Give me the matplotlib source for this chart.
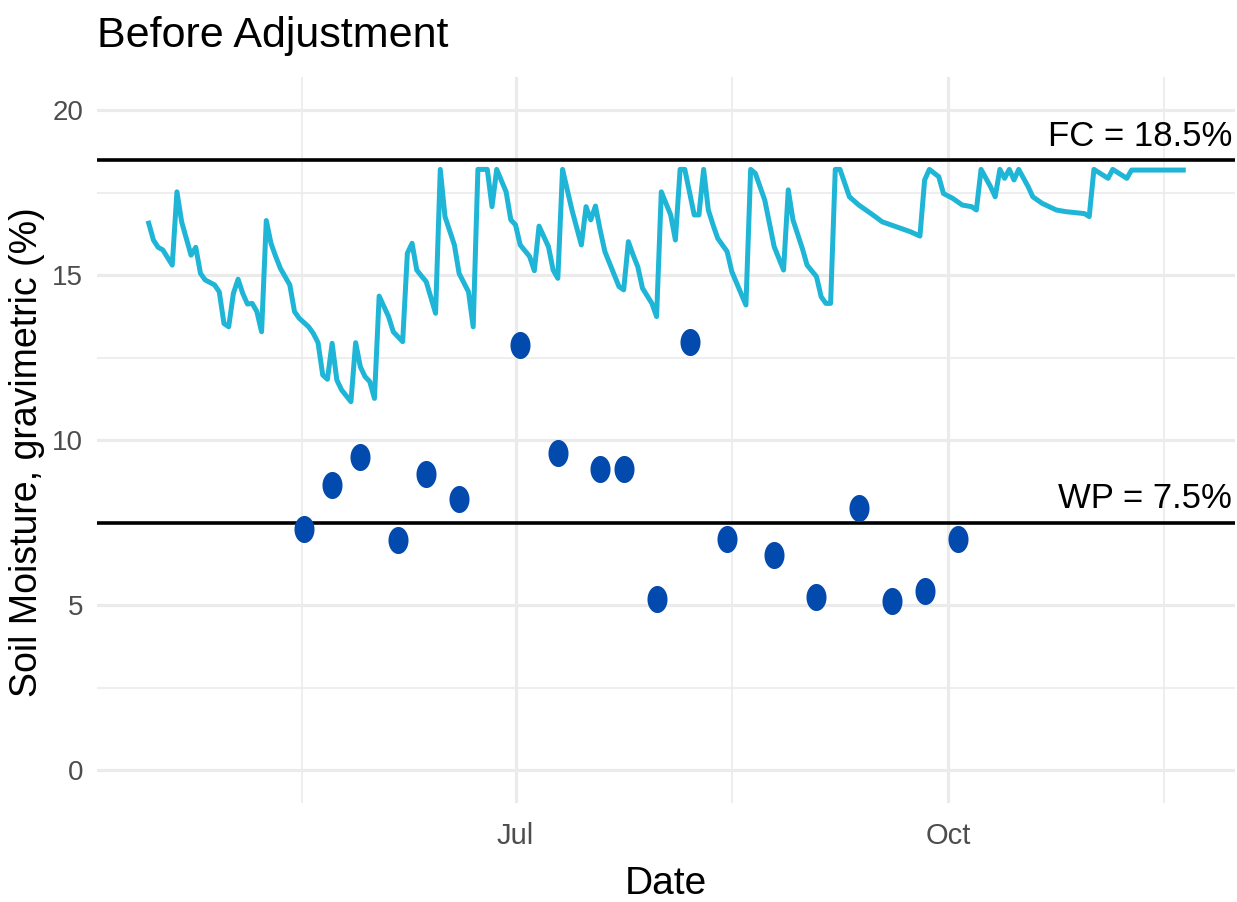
import matplotlib
matplotlib.use("Agg")
import matplotlib.pyplot as plt
import matplotlib.dates as mdates
from matplotlib.path import Path
import numpy as np
import pandas as pd

# daily soil moisture (model)
line_dates = [
    "2021-04-14", "2021-04-15", "2021-04-16", "2021-04-17", "2021-04-19", "2021-04-20",
    "2021-04-21", "2021-04-23", "2021-04-24", "2021-04-25", "2021-04-26", "2021-04-28",
    "2021-04-29", "2021-04-30", "2021-05-01", "2021-05-02", "2021-05-03", "2021-05-04",
    "2021-05-05", "2021-05-06", "2021-05-07", "2021-05-08", "2021-05-09", "2021-05-10",
    "2021-05-11", "2021-05-12", "2021-05-14", "2021-05-15", "2021-05-16", "2021-05-18",
    "2021-05-19", "2021-05-20", "2021-05-21", "2021-05-22", "2021-05-23", "2021-05-24",
    "2021-05-25", "2021-05-27", "2021-05-28", "2021-05-29", "2021-05-30", "2021-05-31",
    "2021-06-01", "2021-06-02", "2021-06-04", "2021-06-05", "2021-06-07", "2021-06-08",
    "2021-06-09", "2021-06-10", "2021-06-11", "2021-06-12", "2021-06-14", "2021-06-15",
    "2021-06-16", "2021-06-18", "2021-06-19", "2021-06-21", "2021-06-22", "2021-06-23",
    "2021-06-25", "2021-06-26", "2021-06-27", "2021-06-29", "2021-06-30", "2021-07-01",
    "2021-07-02", "2021-07-04", "2021-07-05", "2021-07-06", "2021-07-08", "2021-07-09",
    "2021-07-10", "2021-07-11", "2021-07-13", "2021-07-15", "2021-07-16", "2021-07-17",
    "2021-07-18", "2021-07-19", "2021-07-20", "2021-07-22", "2021-07-23", "2021-07-24",
    "2021-07-25", "2021-07-26", "2021-07-27", "2021-07-28", "2021-07-30", "2021-07-31",
    "2021-08-01", "2021-08-03", "2021-08-04", "2021-08-05", "2021-08-06", "2021-08-08",
    "2021-08-09", "2021-08-10", "2021-08-11", "2021-08-12", "2021-08-13", "2021-08-15",
    "2021-08-16", "2021-08-19", "2021-08-20", "2021-08-21", "2021-08-23", "2021-08-25",
    "2021-08-27", "2021-08-28", "2021-08-29", "2021-08-31", "2021-09-01", "2021-09-03",
    "2021-09-04", "2021-09-05", "2021-09-06", "2021-09-07", "2021-09-08", "2021-09-10",
    "2021-09-12", "2021-09-14", "2021-09-15", "2021-09-17", "2021-09-21", "2021-09-23",
    "2021-09-25", "2021-09-26", "2021-09-27", "2021-09-29", "2021-09-30", "2021-10-02",
    "2021-10-04", "2021-10-06", "2021-10-07", "2021-10-08", "2021-10-10", "2021-10-11",
    "2021-10-12", "2021-10-13", "2021-10-14", "2021-10-15", "2021-10-16", "2021-10-18",
    "2021-10-19", "2021-10-21", "2021-10-24", "2021-10-26", "2021-10-30", "2021-10-31",
    "2021-11-01", "2021-11-04", "2021-11-05", "2021-11-08", "2021-11-09", "2021-11-20",
]
line_vals = [
    16.57, 16.06, 15.84, 15.76, 15.30, 17.52,
    16.61, 15.60, 15.84, 15.05, 14.85, 14.70,
    14.49, 13.53, 13.43, 14.44, 14.87, 14.44,
    14.12, 14.14, 13.89, 13.28, 16.65, 15.96,
    15.56, 15.20, 14.70, 13.89, 13.69, 13.43,
    13.23, 12.95, 11.97, 11.84, 12.93, 11.82,
    11.52, 11.16, 12.95, 12.22, 11.92, 11.77,
    11.26, 14.36, 13.74, 13.28, 12.98, 15.66,
    15.96, 15.15, 14.97, 14.80, 13.84, 18.20,
    16.77, 15.91, 15.05, 14.49, 13.43, 18.20,
    18.20, 17.07, 18.20, 17.52, 16.67, 16.52,
    15.91, 15.56, 15.13, 16.48, 15.86, 15.15,
    14.90, 18.20, 16.97, 15.91, 17.07, 16.67,
    17.09, 16.36, 15.71, 15.00, 14.65, 14.55,
    16.01, 15.61, 15.25, 14.60, 14.14, 13.74,
    17.52, 16.82, 16.06, 18.20, 18.20, 16.82,
    16.82, 18.20, 16.97, 16.52, 16.11, 15.71,
    15.10, 14.09, 18.20, 18.08, 17.27, 15.86,
    15.15, 17.58, 16.67, 15.80, 15.30, 14.95,
    14.34, 14.14, 14.14, 18.20, 18.20, 17.37,
    17.12, 16.92, 16.82, 16.61, 16.41, 16.31,
    16.18, 17.88, 18.20, 17.98, 17.47, 17.32,
    17.12, 17.07, 16.97, 18.20, 17.68, 17.37,
    18.20, 17.93, 18.20, 17.88, 18.20, 17.68,
    17.37, 17.17, 16.97, 16.92, 16.86, 16.77,
    18.20, 17.93, 18.20, 17.93, 18.18, 18.18,
]

# field measurements
obs_dates = [
    "2021-05-17", "2021-05-23", "2021-05-29", "2021-06-06", "2021-06-12", "2021-06-19",
    "2021-07-02", "2021-07-10", "2021-07-19", "2021-07-24", "2021-07-31", "2021-08-07",
    "2021-08-15", "2021-08-25", "2021-09-03", "2021-09-12", "2021-09-19", "2021-09-26",
    "2021-10-03",
]
obs_vals = [
    7.30, 8.63, 9.48, 6.97, 8.97, 8.22,
    12.89, 9.61, 9.12, 9.12, 5.17, 12.96,
    6.99, 6.52, 5.23, 7.95, 5.12, 5.43,
    7.00,
]

fc = 18.5
wp = 7.5

line_x = pd.to_datetime(line_dates)
obs_x = pd.to_datetime(obs_dates)

narrow = ["Liberation Sans Narrow", "DejaVu Sans Condensed", "Liberation Sans", "DejaVu Sans"]
regular = ["Liberation Sans", "DejaVu Sans"]

fig = plt.figure(figsize=(12.37, 9.02), dpi=100)
ax = fig.add_axes([97 / 1237, 1 - 803 / 902, (1235 - 97) / 1237, (803 - 77) / 902])

for s in ax.spines.values():
    s.set_visible(False)

major_x = pd.to_datetime(["2021-04-01", "2021-07-01", "2021-10-01", "2022-01-01"])
mx = mdates.date2num(major_x)
ax.set_xticks(mx)
ax.set_xticklabels(["Apr", "Jul", "Oct", "Jan"])
ax.set_xticks((mx[:-1] + mx[1:]) / 2, minor=True)
ax.set_yticks([0, 5, 10, 15, 20])
ax.set_yticks([2.5, 7.5, 12.5, 17.5], minor=True)

# ggplot-ish limits (5% expansion), set after the ticks
x0 = mdates.date2num(line_x[0])
x1 = mdates.date2num(line_x[-1])
pad = (x1 - x0) * 0.05
ax.set_xlim(x0 - pad, x1 + pad)
ax.set_ylim(-1, 21)

ax.grid(True, which="major", color="#EBEBEB", linewidth=2.3)
ax.grid(True, which="minor", color="#EBEBEB", linewidth=1.2)
ax.set_axisbelow(True)
ax.tick_params(which="both", length=0)
ax.tick_params(axis="y", pad=10, labelsize=20, labelcolor="#4D4D4D")
ax.tick_params(axis="x", pad=14, labelsize=21, labelcolor="#4D4D4D")
for lab in ax.get_xticklabels() + ax.get_yticklabels():
    lab.set_family(narrow)

ax.axhline(fc, color="black", linewidth=2.6, zorder=3)
ax.axhline(wp, color="black", linewidth=2.6, zorder=3)

ax.plot(line_x, line_vals, color="#1FB5D6", linewidth=3.6, solid_joinstyle="round", zorder=4)

# squeezed circle, like the reference
t = np.linspace(0, 2 * np.pi, 60)
ell = Path(np.column_stack([0.74 * np.cos(t), np.sin(t)]), closed=True)
ax.plot(obs_x, obs_vals, linestyle="none", marker=ell, markersize=19.5,
        color="#024AAD", markeredgewidth=0, zorder=5)

ax.annotate("FC = 18.5%", xy=(1, fc), xycoords=("axes fraction", "data"),
            xytext=(-3, 14), textcoords="offset pixels", ha="right", va="baseline",
            fontsize=25, family=narrow, color="black")
ax.annotate("WP = 7.5%", xy=(1, wp), xycoords=("axes fraction", "data"),
            xytext=(-3, 14), textcoords="offset pixels", ha="right", va="baseline",
            fontsize=25, family=narrow, color="black")

fig.text(97 / 1237, 1 - 47 / 902, "Before Adjustment", fontsize=31, family=narrow,
         ha="left", va="baseline")
fig.text(666 / 1237, 1 - 894 / 902, "Date", fontsize=28, family=narrow,
         ha="center", va="baseline")
fig.text(27 / 1237, 1 - 452 / 902, "Soil Moisture, gravimetric (%)", fontsize=27,
         family=regular, rotation=90, ha="center", va="center")

fig.savefig("out.png", dpi=100)
